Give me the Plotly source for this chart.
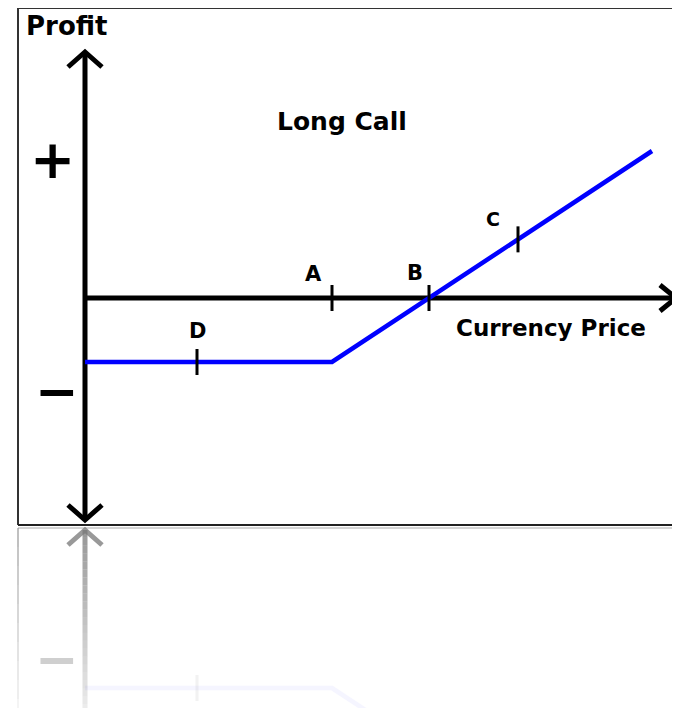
import numpy as np
import plotly.graph_objects as go

# ---- data (price / profit units) ----
payoff_price = [0, 247, 567]
payoff_profit = [-64, -64, 147]
point_labels = ["A", "B", "C", "D"]
point_price = [247, 344, 433, 112]
label_price = [228, 330, 408, 112]
label_profit = [24, 25, 79, -33]
label_sizes = [21, 21, 19, 21]
axis_x_end = 591
axis_y_top = 246
axis_y_bottom = -222
title_text = "Long Call"
y_title = "Profit"
x_title = "Currency Price"

FONT = "DejaVu Sans"
MIRROR = -227  # reflection line (profit units)

fig = go.Figure()


def seg(xs, ys, color, width, opacity=1.0):
    fig.add_trace(go.Scatter(x=xs, y=ys, mode="lines", opacity=opacity,
                             line=dict(color=color, width=width),
                             hoverinfo="skip", showlegend=False))


def mir(ys):
    return [2 * MIRROR - y for y in ys]


# ---- frame ----
seg([-67, -67, 600], [-227, 290, 290], "#333333", 2)
seg([-67, 600], [-227, -227], "#222222", 2)
seg([-67, 600], [-230, -230], "#aaaaaa", 1)
# reflection-area left border fading
for i in range(10):
    y0 = -230 - i * 19
    seg([-67, -67], [y0, y0 - 19], "#888888", 1.5, 0.7 - i * 0.065)

# ---- main axes ----
seg([0, 0], [axis_y_top - 2, axis_y_bottom + 2], "black", 5)
seg([-17, 0, 17], [axis_y_top - 15, axis_y_top, axis_y_top - 15], "black", 5)
seg([-17, 0, 17], [axis_y_bottom + 15, axis_y_bottom, axis_y_bottom + 15], "black", 5)
seg([0, axis_x_end - 2], [0, 0], "black", 5)
seg([axis_x_end - 16, axis_x_end, axis_x_end - 16], [13, 0, -13], "black", 5)

# ---- payoff line ----
seg(payoff_price, payoff_profit, "#0000ff", 4.5)

# ---- tick marks ----
for lab, p in zip(point_labels, point_price):
    yv = 0.0 if lab in ("A", "B") else float(np.interp(p, payoff_price, payoff_profit))
    seg([p, p], [yv - 13, yv + 13], "black", 3)

# ---- reflection ----
n = 24
ys_ax = np.linspace(axis_y_bottom, axis_y_bottom + 190, n + 1)
for i in range(n):
    seg([0, 0], mir([ys_ax[i], ys_ax[i + 1]]), "#777777", 5, 0.75 - i * 0.028)
seg([-17, 0, 17], mir([axis_y_bottom + 15, axis_y_bottom, axis_y_bottom + 15]),
    "#777777", 5, 0.75)
seg(payoff_price, mir(payoff_profit), "#0000ff", 4.5, 0.035)
d_p = point_price[3]
seg([d_p, d_p], mir([-64 - 13, -64 + 13]), "#888888", 3, 0.1)

annotations = []


def txt(x, y, s, size, color="black", opacity=1.0, xanchor="center"):
    annotations.append(dict(x=x, y=y, xref="x", yref="y", text=s, showarrow=False,
                            xanchor=xanchor, yanchor="middle", opacity=opacity,
                            font=dict(family=FONT, size=size, color=color, weight="bold")))


txt(-61, 272, y_title, 26, xanchor="left")
txt(257, 177, title_text, 25)
txt(466, -30, x_title, 23)
txt(-33, 139, "+", 54)
txt(-28, -93, "−", 52)
txt(-28, mir([-93])[0], "−", 52, color="#bbbbbb", opacity=0.7)
for lab, lx, ly, sz in zip(point_labels, label_price, label_profit, label_sizes):
    txt(lx, ly, lab, sz)

# page body has an 8px margin: map data so that positions match the window
fig.update_layout(
    width=664, height=700,
    margin=dict(l=0, r=0, t=0, b=0),
    paper_bgcolor="white", plot_bgcolor="white",
    xaxis=dict(range=[-77, 587], visible=False, fixedrange=True),
    yaxis=dict(range=[-410, 290], visible=False, fixedrange=True),
    annotations=annotations,
    showlegend=False,
)

fig.write_html("out.html")
